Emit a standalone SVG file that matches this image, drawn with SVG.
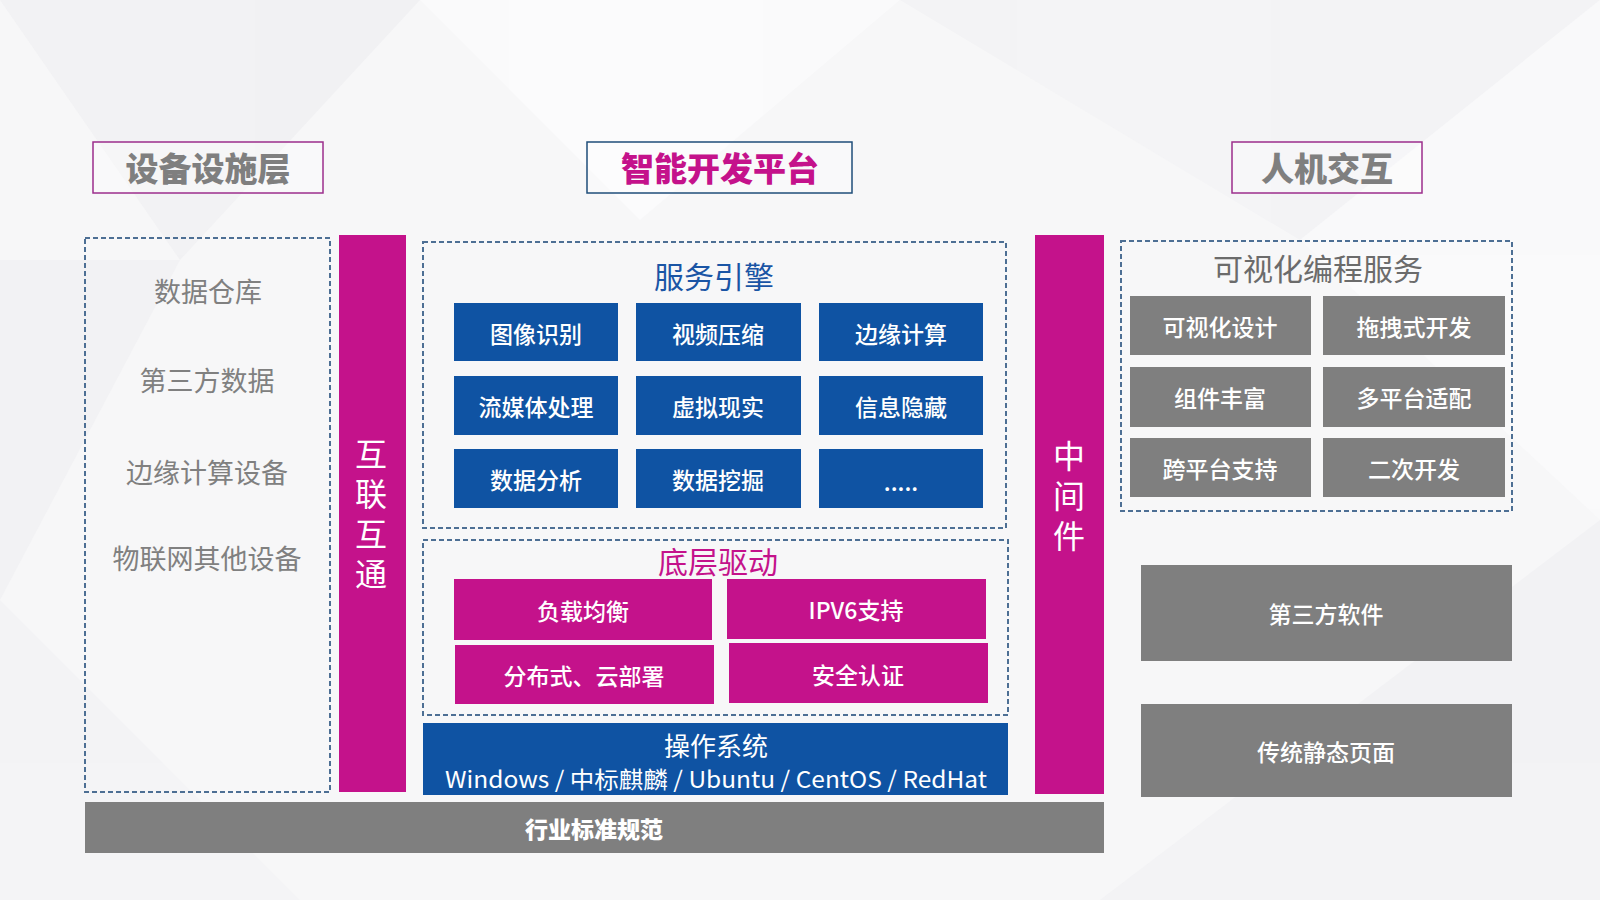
<svg xmlns="http://www.w3.org/2000/svg" width="1600" height="900" viewBox="0 0 1600 900">
<style>
text{font-family:"Noto Sans CJK SC","Noto Sans",sans-serif;text-anchor:middle;dominant-baseline:central}
.dash{fill:none;stroke:#4d6f94;stroke-width:2;stroke-dasharray:5 3}
.blue{fill:#0f53a3}
.mag{fill:#c4128b}
.gray{fill:#7f7f7f}
.wt{fill:#ffffff;font-size:23px;font-weight:500}
.ttl{font-size:33px;font-weight:900}
.left{fill:#808080;font-size:27px}
.vert{fill:#ffffff;font-size:32px;writing-mode:vertical-rl;letter-spacing:8px}
</style>
<rect width="1600" height="900" fill="#f7f7f8"/>
<g id="background" opacity="0.9">
<polygon points="0,0 420,0 180,260" fill="#f1f1f3"/>
<polygon points="420,0 900,0 640,220" fill="#fbfbfc"/>
<polygon points="900,0 1600,0 1300,240" fill="#f3f3f5"/>
<polygon points="1300,240 1600,0 1600,520" fill="#fafafb"/>
<polygon points="0,260 180,260 0,600" fill="#f2f2f4"/>
<polygon points="0,600 300,900 0,900" fill="#f3f3f5"/>
<polygon points="1100,900 1600,520 1600,900" fill="#f2f2f4"/>
</g>
<g id="title-device">
<rect x="93" y="142" width="230" height="51" fill="#ffffff" fill-opacity="0.3" stroke="#9c2e8c" stroke-width="1.5"/>
<text x="208" y="167" class="ttl" fill="#7f7f7f">设备设施层</text>
</g>
<g id="title-platform">
<rect x="587" y="142" width="265" height="51" fill="#ffffff" fill-opacity="0.3" stroke="#1f4e79" stroke-width="1.5"/>
<text x="720" y="167" class="ttl" fill="#c4128b">智能开发平台</text>
</g>
<g id="title-hci">
<rect x="1232" y="142" width="190" height="51" fill="#ffffff" fill-opacity="0.3" stroke="#9c2e8c" stroke-width="1.5"/>
<text x="1327" y="167" class="ttl" fill="#7f7f7f">人机交互</text>
</g>
<g id="device-layer">
<rect x="85" y="238" width="245" height="554" class="dash"/>
<text x="208" y="290" class="left">数据仓库</text>
<text x="207" y="379" class="left">第三方数据</text>
<text x="207" y="471" class="left">边缘计算设备</text>
<text x="207" y="557" class="left">物联网其他设备</text>
</g>
<g id="interconnect">
<rect x="339" y="235" width="67" height="557" class="mag"/>
<text x="371" y="518" class="vert">互联互通</text>
</g>
<g id="service-engine">
<rect x="423" y="242" width="583" height="286" class="dash"/>
<text x="714" y="275" font-size="30" fill="#1a55a5">服务引擎</text>
<g id="svc-1"><rect x="454" y="303" width="164" height="58" class="blue"/><text x="536" y="333" class="wt">图像识别</text></g>
<g id="svc-2"><rect x="636" y="303" width="165" height="58" class="blue"/><text x="718" y="333" class="wt">视频压缩</text></g>
<g id="svc-3"><rect x="819" y="303" width="164" height="58" class="blue"/><text x="901" y="333" class="wt">边缘计算</text></g>
<g id="svc-4"><rect x="454" y="376" width="164" height="59" class="blue"/><text x="536" y="406" class="wt">流媒体处理</text></g>
<g id="svc-5"><rect x="636" y="376" width="165" height="59" class="blue"/><text x="718" y="406" class="wt">虚拟现实</text></g>
<g id="svc-6"><rect x="819" y="376" width="164" height="59" class="blue"/><text x="901" y="406" class="wt">信息隐藏</text></g>
<g id="svc-7"><rect x="454" y="449" width="164" height="59" class="blue"/><text x="536" y="479" class="wt">数据分析</text></g>
<g id="svc-8"><rect x="636" y="449" width="165" height="59" class="blue"/><text x="718" y="479" class="wt">数据挖掘</text></g>
<g id="svc-9"><rect x="819" y="449" width="164" height="59" class="blue"/><text x="901" y="481" class="wt">.....</text></g>
</g>
<g id="driver-layer">
<rect x="423" y="540" width="585" height="175" class="dash"/>
<text x="718" y="560" font-size="30" fill="#c4128b">底层驱动</text>
<g id="drv-1"><rect x="454" y="579" width="258" height="61" class="mag"/><text x="583" y="610" class="wt">负载均衡</text></g>
<g id="drv-2"><rect x="727" y="579" width="259" height="60" class="mag"/><text x="856" y="609" class="wt">IPV6支持</text></g>
<g id="drv-3"><rect x="455" y="645" width="259" height="59" class="mag"/><text x="584" y="675" class="wt">分布式、云部署</text></g>
<g id="drv-4"><rect x="729" y="643" width="259" height="60" class="mag"/><text x="858" y="674" class="wt">安全认证</text></g>
</g>
<g id="os">
<rect x="423" y="723" width="585" height="72" class="blue"/>
<text x="716" y="744" fill="#ffffff" font-size="26">操作系统</text>
<text x="716" y="778" fill="#ffffff" font-size="23" textLength="542" lengthAdjust="spacingAndGlyphs">Windows / 中标麒麟 / Ubuntu / CentOS / RedHat</text>
</g>
<g id="standards">
<rect x="85" y="802" width="1019" height="51" class="gray"/>
<text x="594" y="828" fill="#ffffff" font-size="23" font-weight="900">行业标准规范</text>
</g>
<g id="middleware">
<rect x="1035" y="235" width="69" height="559" class="mag"/>
<text x="1069" y="500" class="vert">中间件</text>
</g>
<g id="visual-programming">
<rect x="1121" y="241" width="391" height="270" class="dash"/>
<text x="1318" y="267" font-size="30" fill="#6b6b6b">可视化编程服务</text>
<g id="vp-1"><rect x="1130" y="296" width="181" height="59" class="gray"/><text x="1220" y="326" class="wt">可视化设计</text></g>
<g id="vp-2"><rect x="1323" y="296" width="182" height="59" class="gray"/><text x="1414" y="326" class="wt">拖拽式开发</text></g>
<g id="vp-3"><rect x="1130" y="367" width="181" height="60" class="gray"/><text x="1220" y="397" class="wt">组件丰富</text></g>
<g id="vp-4"><rect x="1323" y="367" width="182" height="60" class="gray"/><text x="1414" y="397" class="wt">多平台适配</text></g>
<g id="vp-5"><rect x="1130" y="438" width="181" height="59" class="gray"/><text x="1220" y="468" class="wt">跨平台支持</text></g>
<g id="vp-6"><rect x="1323" y="438" width="182" height="59" class="gray"/><text x="1414" y="468" class="wt">二次开发</text></g>
</g>
<g id="third-party-software">
<rect x="1141" y="565" width="371" height="96" class="gray"/>
<text x="1326" y="613" class="wt">第三方软件</text>
</g>
<g id="static-pages">
<rect x="1141" y="704" width="371" height="93" class="gray"/>
<text x="1326" y="751" class="wt">传统静态页面</text>
</g>
<g id="connectors"/>
</svg>
